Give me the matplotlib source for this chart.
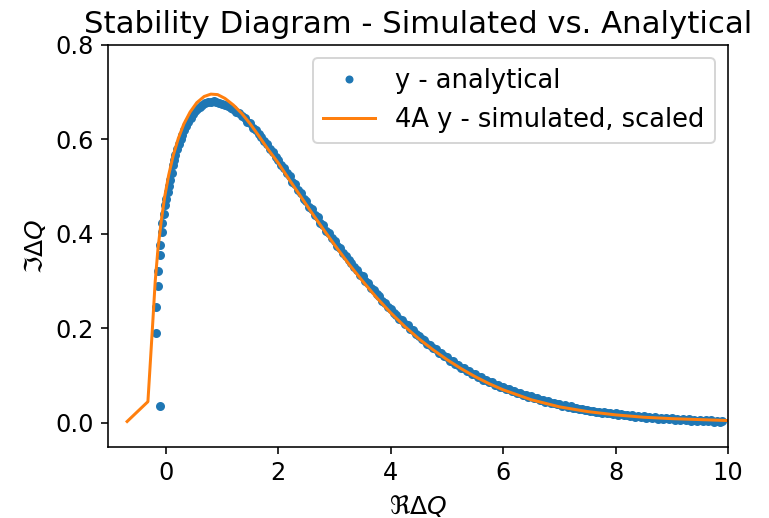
import matplotlib
matplotlib.use("Agg")
import matplotlib.pyplot as plt

# analytical points (blue dots)
ana_x = [-0.11, -0.178, -0.175, -0.14, -0.135, -0.105, -0.1, -0.075, -0.07, -0.04,
         -0.02, 0.0, 0.03, 0.06, 0.07, 0.1, 0.12, 0.14, 0.17, 0.2,
         0.23, 0.26, 0.29, 0.32, 0.36, 0.4, 0.44, 0.48, 0.52, 0.56,
         0.6, 0.65, 0.7, 0.75, 0.8, 0.85, 0.9, 0.95, 1.0, 1.05, 1.1,
         1.15, 1.2, 1.25, 1.3, 1.35, 1.4, 1.45, 1.5, 1.55, 1.6, 1.65, 1.7, 1.75, 1.8, 1.85, 1.9, 1.95,
         2.0, 2.05, 2.1, 2.15, 2.2, 2.25, 2.3, 2.35, 2.4, 2.45, 2.5, 2.55, 2.6, 2.65, 2.7, 2.75, 2.8, 2.85, 2.9, 2.95,
         3.0, 3.05, 3.1, 3.15, 3.2, 3.25, 3.3, 3.35, 3.4, 3.45, 3.5, 3.55, 3.6, 3.65, 3.7, 3.75, 3.8, 3.85, 3.9, 3.95,
         4.0, 4.05, 4.1, 4.15, 4.2, 4.25, 4.3, 4.35, 4.4, 4.45, 4.5, 4.55, 4.6, 4.65, 4.7, 4.75, 4.8, 4.85, 4.9, 4.95,
         5.0, 5.05, 5.1, 5.15, 5.2, 5.25, 5.3, 5.35, 5.4, 5.45, 5.5, 5.55, 5.6, 5.65, 5.7, 5.75, 5.8, 5.85, 5.9, 5.95,
         6.0, 6.05, 6.1, 6.15, 6.2, 6.25, 6.3, 6.35, 6.4, 6.45, 6.5, 6.55, 6.6, 6.65, 6.7, 6.75, 6.8, 6.85, 6.9, 6.95,
         7.0, 7.05, 7.1, 7.15, 7.2, 7.25, 7.3, 7.35, 7.4, 7.45, 7.5, 7.55, 7.6, 7.65, 7.7, 7.75, 7.8, 7.85, 7.9, 7.95,
         8.0, 8.05, 8.1, 8.15, 8.2, 8.25, 8.3, 8.35, 8.4, 8.45, 8.5, 8.55, 8.6, 8.65, 8.7, 8.75, 8.8, 8.85, 8.9, 8.95,
         9.0, 9.05, 9.1, 9.15, 9.2, 9.25, 9.3, 9.35, 9.4, 9.45, 9.5, 9.55, 9.6, 9.65, 9.7, 9.75, 9.8, 9.85, 9.9]
ana_y = [0.035, 0.191, 0.246, 0.29, 0.321, 0.356, 0.377, 0.404, 0.423, 0.443,
         0.462, 0.474, 0.488, 0.502, 0.514, 0.53, 0.545, 0.556, 0.568, 0.58,
         0.59, 0.601, 0.61, 0.62, 0.629, 0.638, 0.645, 0.653, 0.66, 0.664,
         0.669, 0.673, 0.677, 0.679, 0.68, 0.681, 0.679, 0.678, 0.676, 0.674, 0.671,
         0.667, 0.665, 0.659, 0.657, 0.649, 0.646, 0.638, 0.634, 0.625, 0.621, 0.611, 0.606, 0.596, 0.590, 0.580, 0.574, 0.563,
         0.557, 0.546, 0.54, 0.528, 0.522, 0.51, 0.505, 0.493, 0.487, 0.475, 0.469, 0.458, 0.452, 0.44, 0.435, 0.424, 0.418, 0.407, 0.402, 0.391,
         0.386, 0.375, 0.37, 0.359, 0.354, 0.344, 0.339, 0.329, 0.324, 0.314, 0.31, 0.3, 0.296, 0.286, 0.282, 0.272, 0.268, 0.258, 0.254, 0.245,
         0.241, 0.232, 0.229, 0.221, 0.218, 0.21, 0.207, 0.199, 0.196, 0.188, 0.185, 0.177, 0.175, 0.167, 0.165, 0.158, 0.156, 0.149, 0.148, 0.141,
         0.139, 0.132, 0.131, 0.124, 0.123, 0.117, 0.116, 0.11, 0.109, 0.103, 0.103, 0.097, 0.097, 0.091, 0.091, 0.086, 0.086, 0.081, 0.081, 0.076,
         0.076, 0.071, 0.072, 0.067, 0.067, 0.063, 0.063, 0.059, 0.059, 0.055, 0.056, 0.052, 0.052, 0.048, 0.049, 0.045, 0.046, 0.042, 0.043, 0.039,
         0.04, 0.036, 0.037, 0.034, 0.035, 0.031, 0.032, 0.029, 0.03, 0.027, 0.028, 0.025, 0.026, 0.023, 0.024, 0.021, 0.023, 0.02, 0.021, 0.018,
         0.02, 0.017, 0.018, 0.016, 0.017, 0.014, 0.016, 0.013, 0.015, 0.012, 0.014, 0.011, 0.013, 0.01, 0.012, 0.009, 0.011, 0.009, 0.01, 0.008,
         0.01, 0.007, 0.009, 0.006, 0.009, 0.006, 0.008, 0.005, 0.007, 0.004, 0.007, 0.004, 0.006, 0.003, 0.006, 0.002, 0.005, 0.002, 0.004]

# simulated, scaled (orange line)
sim_x = [-0.69, -0.32, -0.24, -0.19, -0.14, -0.08, -0.02, 0.05, 0.13, 0.22,
         0.32, 0.43, 0.55, 0.68, 0.8, 0.92, 1.05, 1.2, 1.35, 1.5,
         1.65, 1.8, 2.0, 2.2, 2.4, 2.6, 2.8, 3.0, 3.25, 3.5,
         3.75, 4.0, 4.25, 4.5, 4.75, 5.0, 5.25, 5.5, 5.75, 6.0,
         6.5, 7.0, 7.5, 8.0, 8.5, 9.0, 9.5, 10.0]
sim_y = [0.003, 0.045, 0.20, 0.30, 0.37, 0.43, 0.48, 0.525, 0.566, 0.602,
         0.633, 0.658, 0.678, 0.691, 0.696, 0.695, 0.687, 0.673, 0.655, 0.633,
         0.608, 0.582, 0.550, 0.514, 0.479, 0.444, 0.41, 0.377, 0.337, 0.3,
         0.265, 0.233, 0.204, 0.178, 0.155, 0.134, 0.115, 0.098, 0.083, 0.07,
         0.049, 0.034, 0.024, 0.017, 0.012, 0.009, 0.007, 0.005]

DPI = 144
fig = plt.figure(figsize=(769 / DPI, 518 / DPI), dpi=DPI)
ax = fig.add_axes([108 / 769, 1 - 447 / 518, (728 - 108) / 769, (447 - 45) / 518])

ax.plot(ana_x, ana_y, '.', markersize=7, label='y - analytical')
ax.plot(sim_x, sim_y, '-', label='4A y - simulated, scaled')

ax.set_xlim(-1.03, 10)
ax.set_ylim(-0.051, 0.8)
ax.set_xticks([0, 2, 4, 6, 8, 10])
ax.set_yticks([0.0, 0.2, 0.4, 0.6, 0.8])
ax.tick_params(labelsize=12)
ax.set_xlabel(r'$\Re\Delta Q$', fontsize=12.5)
ax.set_ylabel(r'$\Im\Delta Q$', fontsize=12.5)
ax.set_title('Stability Diagram - Simulated vs. Analytical', fontsize=15.4)
ax.legend(loc='upper right', fontsize=12.9, markerscale=6 / 7)

fig.savefig('out.png', dpi=DPI)
